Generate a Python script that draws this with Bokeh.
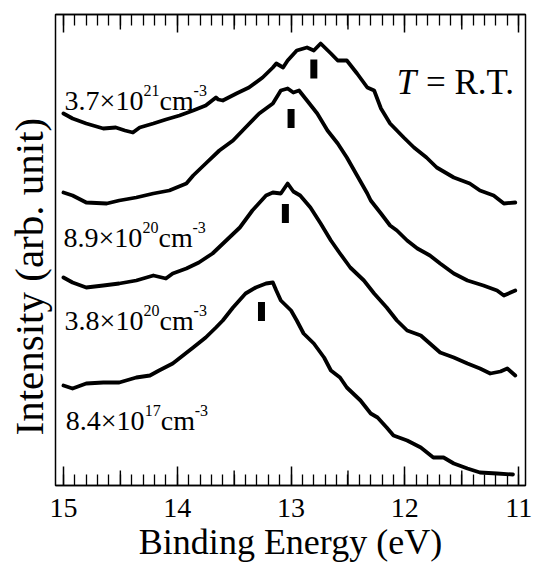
from bokeh.plotting import figure
from bokeh.models import Range1d, LinearAxis, FixedTicker, Title
from bokeh.core.properties import value
from bokeh.embed import file_html
from bokeh.resources import INLINE

# ---- data (binding energy in eV, intensity in arb. units) ----
energy_a = [15.00, 14.92, 14.80, 14.65, 14.54, 14.46, 14.39, 14.33, 14.21, 14.10, 13.98, 13.86,
            13.75, 13.66, 13.64, 13.60, 13.48, 13.37, 13.25, 13.16, 13.13, 13.07, 13.03, 12.95,
            12.86, 12.80, 12.74, 12.65, 12.59, 12.51, 12.42, 12.33, 12.27, 12.21, 12.13, 12.01,
            11.92, 11.81, 11.72, 11.57, 11.43, 11.34, 11.22, 11.13, 11.03]
intensity_a = [3.72, 3.67, 3.62, 3.57, 3.58, 3.55, 3.53, 3.58, 3.62, 3.66, 3.70, 3.75,
               3.80, 3.88, 3.86, 3.85, 3.92, 3.98, 4.08, 4.18, 4.22, 4.18, 4.25, 4.35,
               4.38, 4.35, 4.42, 4.32, 4.25, 4.25, 4.12, 3.98, 3.95, 3.77, 3.62, 3.48,
               3.38, 3.28, 3.18, 3.08, 3.02, 2.95, 2.90, 2.82, 2.83]

energy_b = [15.00, 14.92, 14.80, 14.62, 14.51, 14.36, 14.21, 14.07, 13.92, 13.86, 13.75, 13.63,
            13.51, 13.40, 13.28, 13.16, 13.09, 13.03, 12.98, 12.93, 12.86, 12.77, 12.68, 12.59,
            12.51, 12.42, 12.33, 12.30, 12.21, 12.13, 12.07, 11.98, 11.89, 11.78, 11.69, 11.57,
            11.45, 11.31, 11.19, 11.13, 11.03]
intensity_b = [2.93, 2.90, 2.83, 2.82, 2.85, 2.88, 2.92, 2.95, 3.02, 3.10, 3.22, 3.35,
               3.45, 3.58, 3.72, 3.82, 3.95, 3.97, 3.93, 3.95, 3.85, 3.72, 3.55, 3.42,
               3.28, 3.10, 2.92, 2.85, 2.72, 2.60, 2.55, 2.45, 2.37, 2.30, 2.22, 2.12,
               2.05, 2.00, 1.95, 1.90, 1.95]

energy_c = [15.00, 14.92, 14.80, 14.65, 14.51, 14.36, 14.21, 14.10, 14.04, 13.92, 13.81, 13.69,
            13.57, 13.45, 13.34, 13.22, 13.16, 13.09, 13.03, 12.98, 12.92, 12.83, 12.74, 12.65,
            12.57, 12.48, 12.36, 12.27, 12.16, 12.07, 11.98, 11.86, 11.78, 11.69, 11.57, 11.45,
            11.34, 11.25, 11.16, 11.10, 11.03]
intensity_c = [2.08, 2.03, 1.98, 2.00, 2.02, 2.05, 2.10, 2.07, 2.12, 2.17, 2.23, 2.32,
               2.45, 2.58, 2.75, 2.90, 2.93, 2.92, 3.02, 2.94, 2.90, 2.78, 2.62, 2.45,
               2.32, 2.18, 2.05, 1.92, 1.78, 1.65, 1.55, 1.50, 1.42, 1.33, 1.28, 1.22,
               1.17, 1.12, 1.14, 1.17, 1.10]

energy_d = [15.00, 14.92, 14.80, 14.65, 14.51, 14.36, 14.24, 14.16, 14.04, 13.95, 13.86, 13.75,
            13.66, 13.60, 13.51, 13.40, 13.31, 13.22, 13.16, 13.13, 13.09, 13.00, 12.95, 12.89,
            12.80, 12.71, 12.65, 12.57, 12.51, 12.39, 12.30, 12.24, 12.16, 12.10, 11.98, 11.86,
            11.75, 11.66, 11.57, 11.45, 11.34, 11.19, 11.05]
intensity_d = [1.00, 0.97, 1.02, 1.03, 1.03, 1.08, 1.10, 1.15, 1.22, 1.30, 1.38, 1.48,
               1.58, 1.65, 1.78, 1.92, 1.98, 2.02, 2.03, 1.95, 1.85, 1.75, 1.65, 1.52,
               1.42, 1.28, 1.15, 1.08, 0.98, 0.85, 0.72, 0.68, 0.58, 0.50, 0.45, 0.38,
               0.28, 0.28, 0.22, 0.17, 0.13, 0.12, 0.11]

marker_energy = [12.80, 13.00, 13.05, 13.26]
marker_intensity = [4.165, 3.67, 2.72, 1.74]

label_base = ["3.7×10", "8.9×10", "3.8×10", "8.4×10"]
label_exp = ["21", "20", "20", "17"]
label_energy = [14.99, 15.00, 14.99, 14.98]
label_intensity = [3.85, 2.48, 1.65, 0.65]

major_ticks = [15, 14, 13, 12, 11]
half_ticks = [14.5, 13.5, 12.5, 11.5]
minor_ticks = [round(11 + 0.1 * i, 1) for i in range(41)]

X_START, X_END = 15.07, 10.94
Y_START, Y_END = 0.0, 4.71
FONT = "Liberation Serif"

p = figure(width=539, height=567, x_range=Range1d(X_START, X_END), y_range=Range1d(Y_START, Y_END),
           output_backend="svg", toolbar_location=None, x_axis_location="below", y_axis_location=None,
           min_border_left=54, min_border_right=14, min_border_top=14, min_border_bottom=82)
p.grid.visible = False
p.outline_line_color = "black"
p.outline_line_width = 1.5
p.background_fill_color = "white"
p.border_fill_color = "white"

xa = p.xaxis[0]
xa.ticker = FixedTicker(ticks=major_ticks, minor_ticks=minor_ticks)
xa.axis_line_color = "black"
xa.axis_line_width = 1.5
xa.major_tick_in = 19
xa.major_tick_out = 0
xa.minor_tick_in = 11
xa.minor_tick_out = 0
xa.major_tick_line_color = "black"
xa.minor_tick_line_color = "black"
xa.major_tick_line_width = 1.5
xa.minor_tick_line_width = 1.3
xa.major_label_text_font = FONT
xa.major_label_text_font_size = "28px"
xa.major_label_text_color = "black"
xa.major_label_standoff = 13
xa.axis_label = "Binding Energy (eV)"
xa.axis_label_text_font = FONT
xa.axis_label_text_font_size = "36px"
xa.axis_label_text_font_style = "normal"
xa.axis_label_text_color = "black"
xa.axis_label_standoff = 2

top = LinearAxis(ticker=FixedTicker(ticks=major_ticks, minor_ticks=minor_ticks))
top.axis_line_color = "black"
top.axis_line_width = 1.5
top.major_tick_in = 18
top.major_tick_out = 0
top.minor_tick_in = 11
top.minor_tick_out = 0
top.major_tick_line_color = "black"
top.minor_tick_line_color = "black"
top.major_tick_line_width = 1.5
top.minor_tick_line_width = 1.3
top.major_label_text_color = None
top.major_label_text_font_size = "1px"
top.major_label_standoff = 0
p.add_layout(top, "above")

p.add_layout(Title(text="Intensity (arb. unit)", align="left", offset=50, standoff=7,
                   text_font=FONT, text_font_size="41px", text_font_style="normal",
                   text_color="black"), "left")

# half-eV ticks (medium length) on bottom and top edges
px_per_unit = 471.0 / (Y_END - Y_START)
half_len = 15 / px_per_unit
p.segment(x0=half_ticks, y0=[Y_START] * len(half_ticks), x1=half_ticks,
          y1=[Y_START + half_len] * len(half_ticks), line_color="black", line_width=1.4)
p.segment(x0=half_ticks, y0=[Y_END] * len(half_ticks), x1=half_ticks,
          y1=[Y_END - half_len] * len(half_ticks), line_color="black", line_width=1.4)

for e, i in [(energy_a, intensity_a), (energy_b, intensity_b), (energy_c, intensity_c), (energy_d, intensity_d)]:
    p.line(e, i, line_color="black", line_width=3.8, line_join="round", line_cap="round")

p.rect(x=marker_energy, y=marker_intensity, width=7, height=19, width_units="screen",
       height_units="screen", fill_color="black", line_color=None)

# carrier-density labels: base + superscript exponent + "cm" + superscript "-3"
tx, ty, tt, tsz, txo, tyo = [], [], [], [], [], []
for k in range(len(label_base)):
    parts = [(label_base[k], "28px", 0, 0), (label_exp[k], "16px", 79, -10),
             ("cm", "28px", 95, 0), ("-3", "16px", 129, -10)]
    for txt, sz, xo, yo in parts:
        tx.append(label_energy[k]); ty.append(label_intensity[k]); tt.append(txt)
        tsz.append(sz); txo.append(xo); tyo.append(yo)
p.text(x=tx, y=ty, text=tt, x_offset=txo, y_offset=tyo, text_font_size=tsz,
       text_font=value(FONT), text_color="black", text_align="left", text_baseline="alphabetic")

p.text(x=[11.90], y=[4.03], text=["T"], text_font=value(FONT), text_font_style="italic",
       text_font_size="35px", text_color="black", text_align="right", text_baseline="alphabetic")
p.text(x=[11.04], y=[4.03], text=["= R.T."], text_font=value(FONT),
       text_font_size="35px", text_color="black", text_align="right", text_baseline="alphabetic")

open("out.html", "w").write(file_html(p, INLINE))
